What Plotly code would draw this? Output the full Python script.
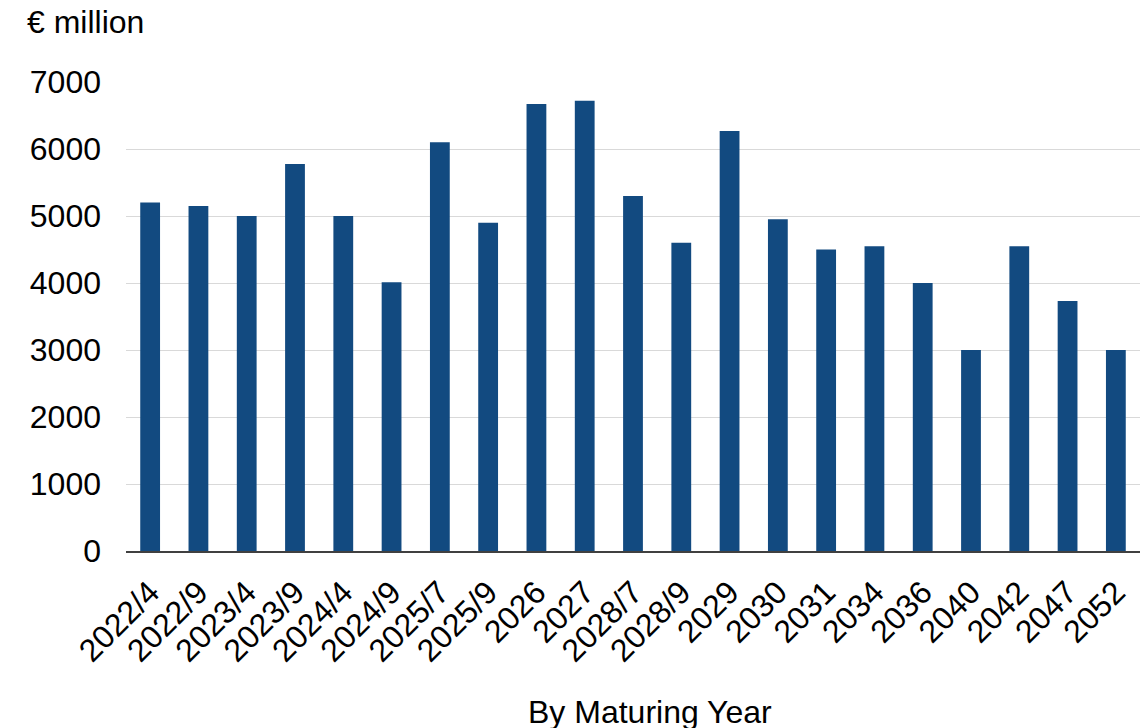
import plotly.graph_objects as go

categories = ["2022/4", "2022/9", "2023/4", "2023/9", "2024/4", "2024/9", "2025/7",
              "2025/9", "2026", "2027", "2028/7", "2028/9", "2029", "2030", "2031",
              "2034", "2036", "2040", "2042", "2047", "2052"]
values = [5200, 5150, 5000, 5775, 5000, 4010, 6100, 4900, 6670, 6720, 5300, 4600,
          6270, 4950, 4500, 4550, 4000, 3000, 4550, 3730, 3000]
y_ticks = [0, 1000, 2000, 3000, 4000, 5000, 6000, 7000]

OFF = 8  # page offset of the figure inside the browser window
W, H = 1140, 720
L, T = 126 - OFF, 82 - OFF
R = W - (1140 - OFF)
B = H - (551 - OFF)
plot_h = H - T - B
plot_w = W - L - R

fig = go.Figure(go.Bar(x=categories, y=values, marker=dict(color="#124a80", line=dict(width=0))))

font = dict(family="Liberation Sans, Arial, sans-serif", size=32, color="#000000")

fig.update_layout(
    width=W, height=H,
    margin=dict(l=L, r=R, t=T, b=B, autoexpand=False),
    paper_bgcolor="white", plot_bgcolor="white",
    bargap=0.59,
    font=font,
    showlegend=False,
    xaxis=dict(type="category", tickangle=-45, showgrid=False, showline=True,
               linecolor="#404040", linewidth=1.5, ticks="", tickfont=font,
               ticklabelstandoff=8),
    yaxis=dict(range=[0, 7000], tickvals=y_ticks, showgrid=True, gridcolor="#d9d9d9",
               gridwidth=1, zeroline=False, showline=False, ticks="", tickfont=font,
               ticklabelstandoff=24),
    annotations=[
        dict(text="€ million", xref="paper", yref="paper", x=(25 - 126) / plot_w,
             y=1 + (82 - 22) / plot_h, xanchor="left", yanchor="middle",
             showarrow=False, font=font),
        dict(text="By Maturing Year", xref="paper", yref="paper", x=(650 - 126) / plot_w,
             y=-(712 - 551) / plot_h, xanchor="center", yanchor="middle",
             showarrow=False, font=font),
    ],
)

fig.write_html("out.html")
